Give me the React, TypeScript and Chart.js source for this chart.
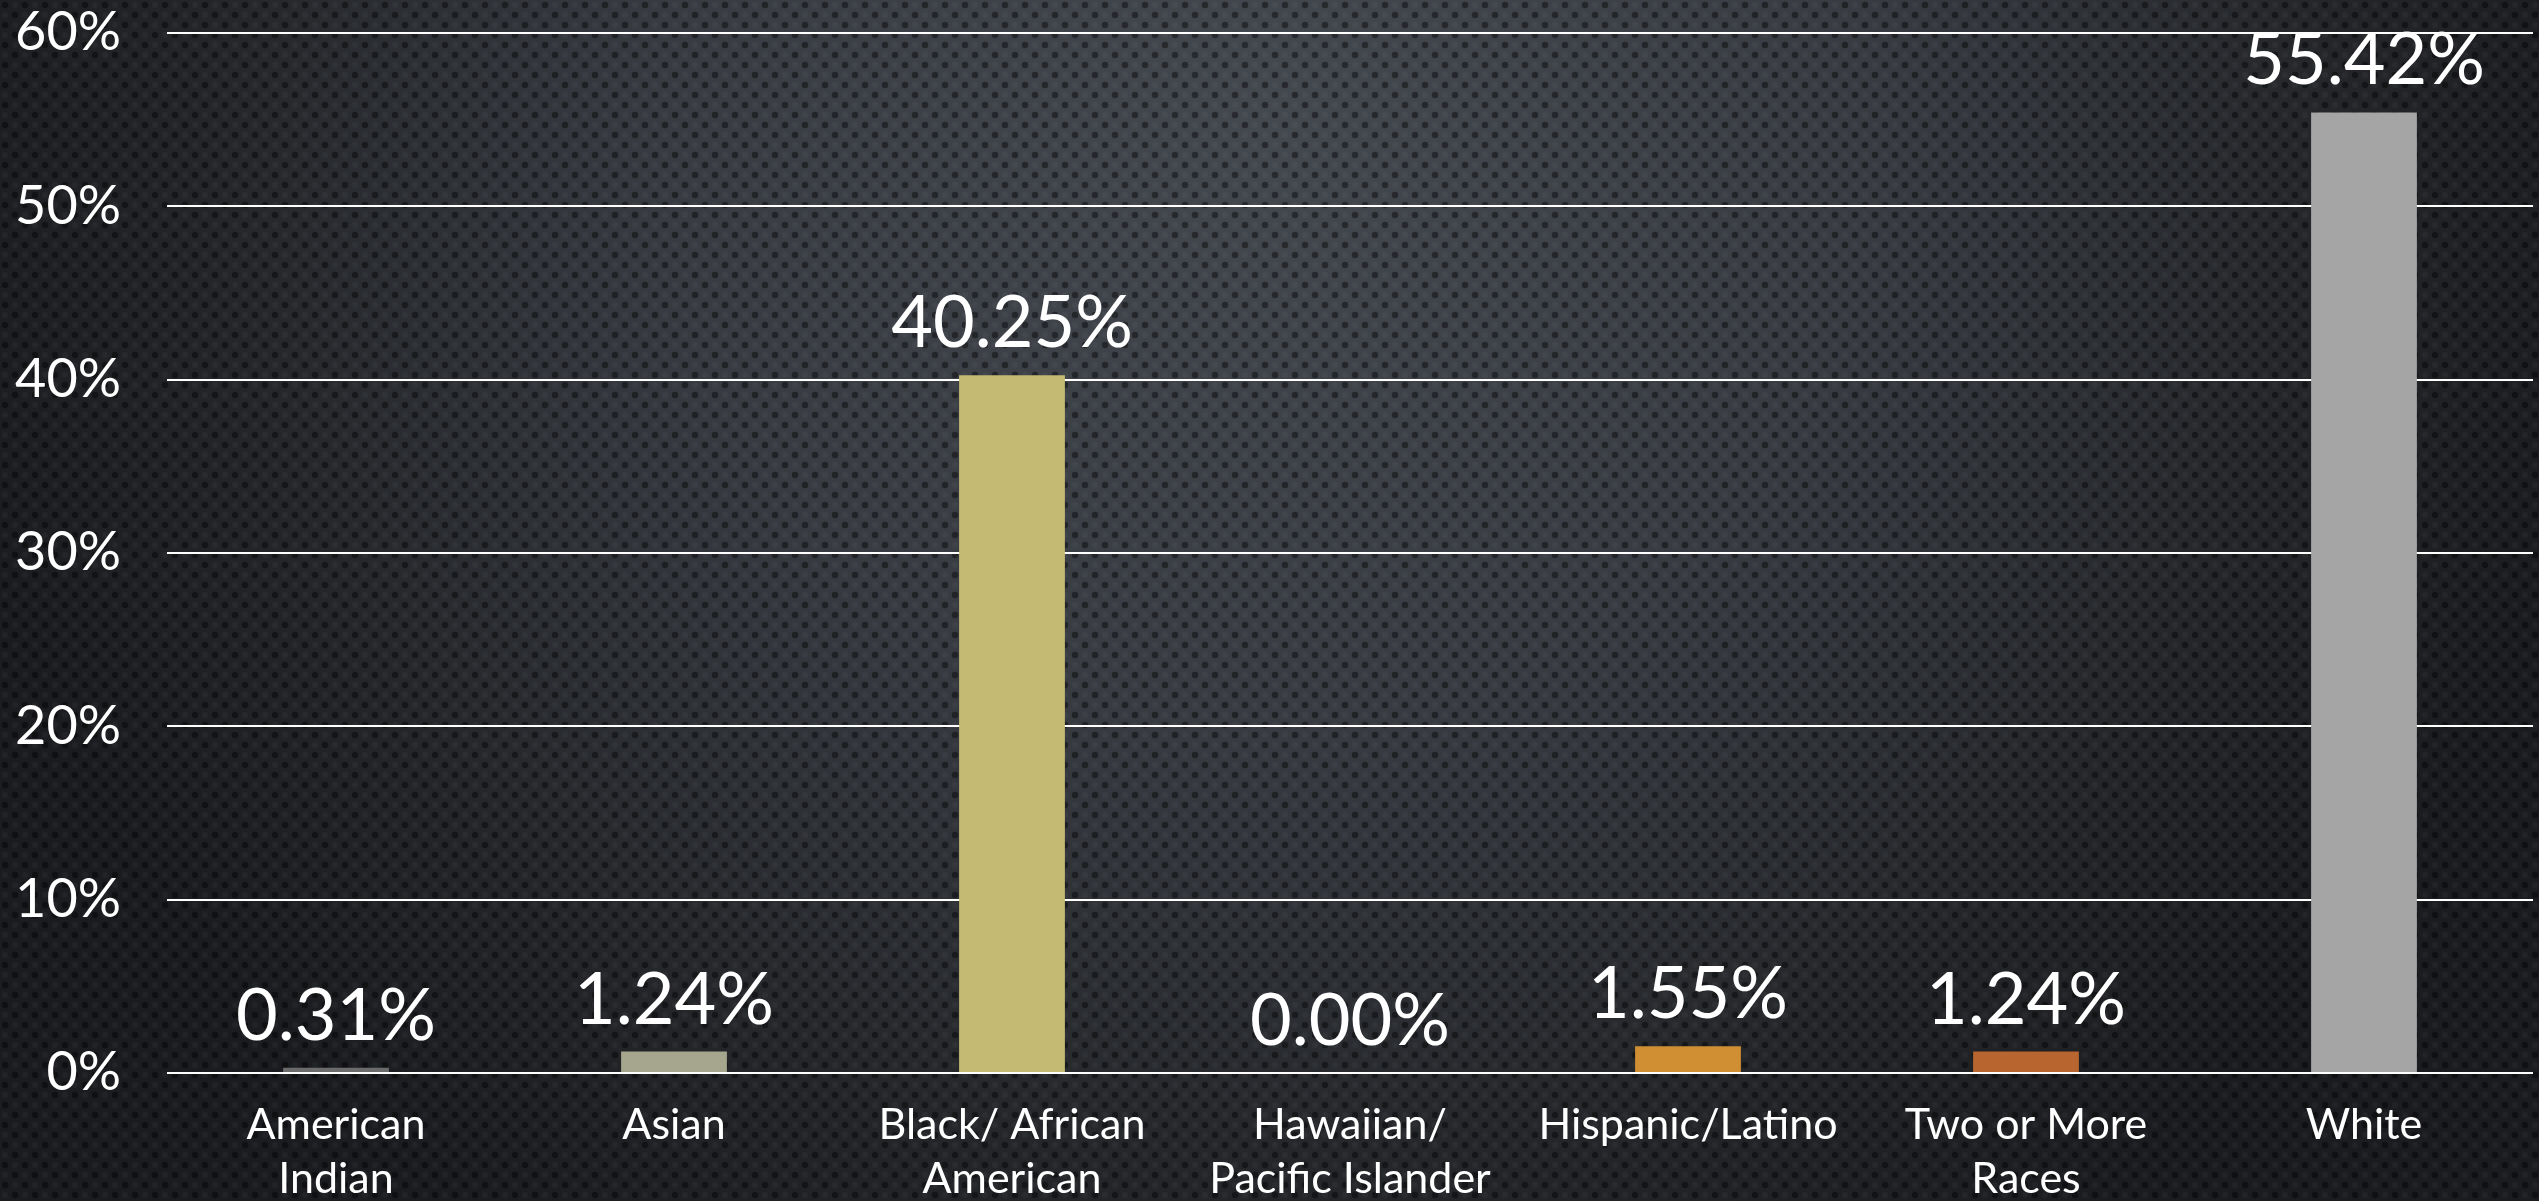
import React, { useEffect, useRef } from "react";
import { Chart, registerables } from "chart.js";

Chart.register(...registerables);

const categories: string[][] = [
  ["American", "Indian"],
  ["Asian"],
  ["Black/ African", "American"],
  ["Hawaiian/", "Pacific Islander"],
  ["Hispanic/Latino"],
  ["Two or More", "Races"],
  ["White"],
];
const values: number[] = [0.31, 1.24, 40.25, 0.0, 1.55, 1.24, 55.42];
const barColors: string[] = ["#6b6b6b", "#a6a58d", "#c4ba74", "#8a8a8a", "#d18f33", "#b8652f", "#a5a5a5"];
const yTicks: number[] = [0, 10, 20, 30, 40, 50, 60];

const FONT = "Lato, 'Open Sans', sans-serif";

const backgroundPlugin = {
  id: "bgTexture",
  beforeDraw(chart: any) {
    const { ctx, width, height } = chart;
    ctx.save();
    const g = ctx.createRadialGradient(width / 2, 120, 0, width / 2, 120, 1350);
    g.addColorStop(0, "#44484f");
    g.addColorStop(0.45, "#383b42");
    g.addColorStop(0.8, "#232528");
    g.addColorStop(1, "#1b1c1f");
    ctx.fillStyle = g;
    ctx.fillRect(0, 0, width, height);
    const pc = document.createElement("canvas");
    pc.width = 20;
    pc.height = 20;
    const p = pc.getContext("2d")!;
    p.fillStyle = "rgba(0,0,0,0.42)";
    for (const [cx, cy] of [[5, 5], [15, 15]]) {
      p.beginPath();
      p.arc(cx, cy, 3.2, 0, Math.PI * 2);
      p.fill();
    }
    p.fillStyle = "rgba(255,255,255,0.03)";
    for (const [cx, cy] of [[15, 5], [5, 15]]) {
      p.beginPath();
      p.arc(cx, cy, 3, 0, Math.PI * 2);
      p.fill();
    }
    const pat = ctx.createPattern(pc, "repeat");
    if (pat) {
      ctx.fillStyle = pat;
      ctx.fillRect(0, 0, width, height);
    }
    ctx.restore();
  },
};

const valueLabelPlugin = {
  id: "valueLabels",
  afterDatasetsDraw(chart: any) {
    const { ctx } = chart;
    const meta = chart.getDatasetMeta(0);
    ctx.save();
    ctx.fillStyle = "#ffffff";
    ctx.font = `72px ${FONT}`;
    ctx.textAlign = "center";
    ctx.textBaseline = "alphabetic";
    meta.data.forEach((bar: any, i: number) => {
      ctx.fillText(values[i].toFixed(2) + "%", bar.x, bar.y - 28);
    });
    ctx.restore();
  },
};

export default function App() {
  const ref = useRef<HTMLCanvasElement>(null);
  useEffect(() => {
    document.body.style.margin = "0";
    document.body.style.overflow = "hidden";
    const chart = new Chart(ref.current!, {
      type: "bar",
      data: {
        labels: categories,
        datasets: [
          {
            data: values,
            backgroundColor: barColors,
            categoryPercentage: 1,
            barPercentage: 0.313,
          },
        ],
      },
      options: {
        animation: false,
        responsive: false,
        maintainAspectRatio: false,
        layout: { padding: { top: 33, right: 6, left: 0, bottom: 0 } },
        plugins: { legend: { display: false }, tooltip: { enabled: false } },
        scales: {
          x: {
            grid: { display: false, drawTicks: false },
            border: { display: false },
            ticks: {
              color: "#ffffff",
              font: { family: FONT, size: 43, lineHeight: 1.25 },
              padding: 25,
              maxRotation: 0,
              autoSkip: false,
            },
            afterFit: (s: any) => {
              s.height = 128;
              s.paddingLeft = 0;
              s.paddingRight = 0;
            },
          },
          y: {
            min: 0,
            max: 60,
            afterBuildTicks: (s: any) => {
              s.ticks = yTicks.map((v) => ({ value: v }));
            },
            grid: { color: "#ffffff", lineWidth: 2, drawTicks: false },
            border: { display: false },
            ticks: {
              color: "#ffffff",
              font: { family: FONT, size: 54, lineHeight: 1.1 },
              padding: 46,
              callback: (v: any) => v + "%",
            },
            afterFit: (s: any) => {
              s.width = 167;
              s.paddingTop = 0;
              s.paddingBottom = 0;
            },
          },
        },
      },
      plugins: [backgroundPlugin, valueLabelPlugin],
    });
    return () => chart.destroy();
  }, []);
  return (
    <div style={{ width: 2539, height: 1201 }}>
      <canvas ref={ref} width={2539} height={1201} style={{ display: "block" }} />
    </div>
  );
}
